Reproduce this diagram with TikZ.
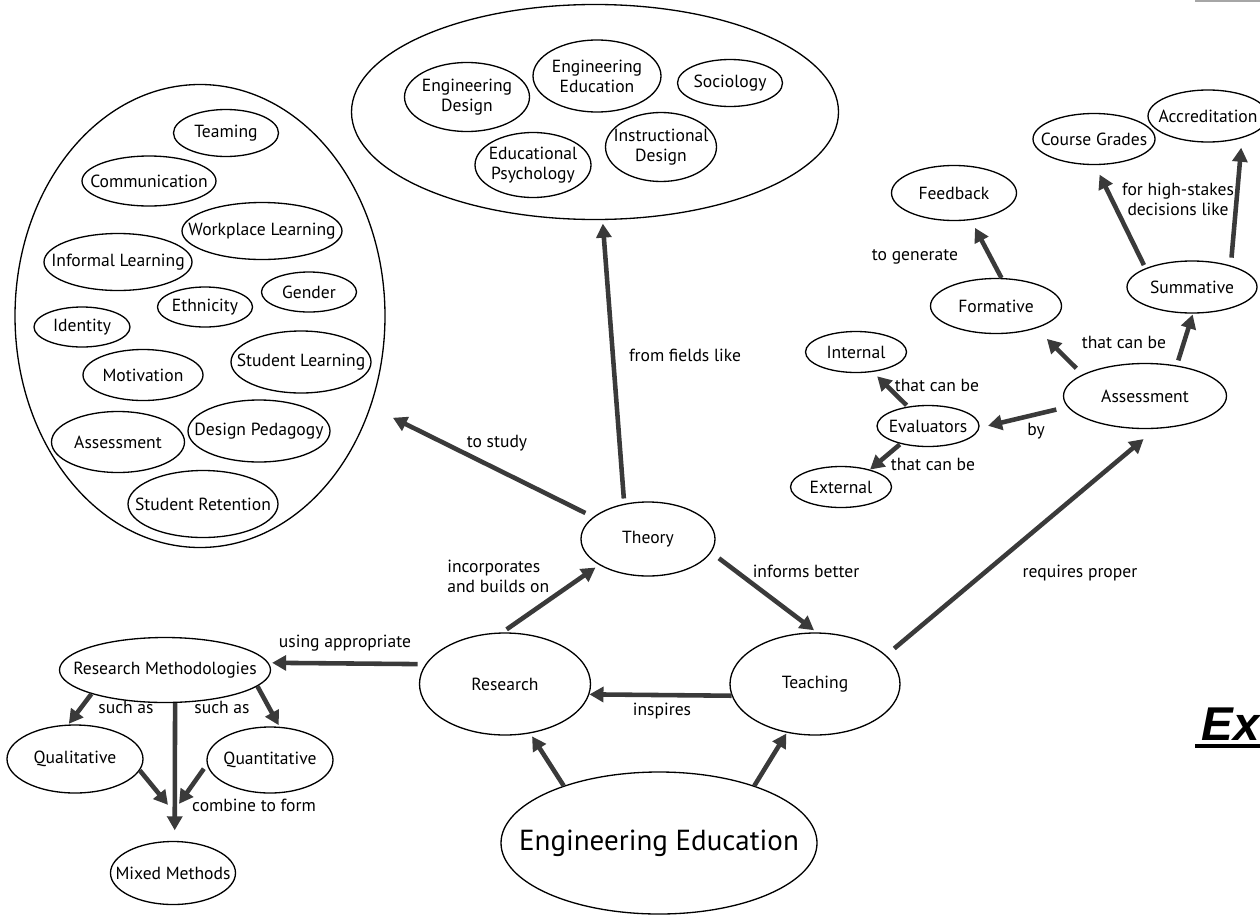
\documentclass[tikz,border=0pt]{standalone}
\usepackage{fontspec}
\setmainfont{PT Sans}
\newfontfamily\exfont{Liberation Sans}
\usetikzlibrary{shapes.geometric,arrows.meta,calc}
\definecolor{arrowgray}{HTML}{3A3A3A}

\begin{document}
\begin{tikzpicture}[x=0.02cm,y=-0.02cm,
  font=\fontsize{10}{11.5}\selectfont,
  bub/.style={ellipse,draw,line width=0.75pt,inner sep=-30pt,align=center},
  wh/.style 2 args={minimum width=#1*0.02cm,minimum height=#2*0.02cm},
  arr/.style={-{Triangle[length=8pt,width=8.5pt]},line width=2.6pt,draw=arrowgray},
  lab/.style={align=center,inner sep=0pt}]
\useasboundingbox (0,0) rectangle (1260,916);

% topic groups
\node[bub,wh={370}{463}] (topics) at (200,316) {};
\node[bub,wh={487}{215}] (fields) at (595,112) {};

\node[bub,wh={105}{47}] (teaming) at (226,133) {Teaming};
\node[bub,wh={134}{50}] (comm) at (149,181) {Communication};
\node[bub,wh={160}{57}] (workplace) at (262,231) {Workplace Learning};
\node[bub,wh={148}{57}] (informal) at (118,262) {Informal Learning};
\node[bub,wh={95}{40}] (ethnicity) at (205,307) {Ethnicity};
\node[bub,wh={95}{40}] (gender) at (309,292) {Gender};
\node[bub,wh={96}{40}] (identity) at (82,327) {Identity};
\node[bub,wh={120}{51}] (motivation) at (143,375) {Motivation};
\node[bub,wh={140}{62}] (stulearn) at (301,362) {Student Learning};
\node[bub,wh={133}{61}] (assessleft) at (118,442) {Assessment};
\node[bub,wh={142}{62}] (designped) at (259,431) {Design Pedagogy};
\node[bub,wh={150}{67}] (retention) at (203,504) {Student Retention};

\node[bub,wh={125}{69}] (engdesign) at (467,97) {Engineering\\Design};
\node[bub,wh={128}{72}] (engeduc) at (597,76) {Engineering\\Education};
\node[bub,wh={105}{47}] (sociology) at (730,83) {Sociology};
\node[bub,wh={116}{65}] (edpsych) at (533,165) {Educational\\Psychology};
\node[bub,wh={111}{69}] (instrdesign) at (661,147) {Instructional\\Design};

% core
\node[bub,wh={134}{74}] (theory) at (648,539) {Theory};
\node[bub,wh={171}{102}] (research) at (505,684) {Research};
\node[bub,wh={170}{102}] (teaching) at (815,684) {Teaching};
\node[bub,wh={316}{142},font=\fontsize{16.5}{18}\selectfont] (engedu) at (659,843) {Engineering Education};

\node[bub,wh={211}{65}] (methods) at (165,670) {Research Methodologies};
\node[bub,wh={136}{68}] (qual) at (75,759) {Qualitative};
\node[bub,wh={126}{66}] (quant) at (270,760) {Quantitative};
\node[bub,wh={125}{63}] (mixed) at (173,873) {Mixed Methods};

\node[bub,wh={163}{65}] (assess) at (1145,396) {Assessment};
\node[bub,wh={102}{41}] (evaluators) at (928,426) {Evaluators};
\node[bub,wh={101}{41}] (internal) at (856,352) {Internal};
\node[bub,wh={101}{41}] (external) at (841,487) {External};
\node[bub,wh={131}{55}] (formative) at (996,306) {Formative};
\node[bub,wh={125}{55}] (feedback) at (954,193) {Feedback};
\node[bub,wh={130}{52}] (summative) at (1192,287) {Summative};
\node[bub,wh={122}{51}] (grades) at (1094,139) {Course Grades};
\node[bub,wh={120}{52}] (accred) at (1208,116) {Accreditation};

% arrows
\draw[arr,shorten <=5pt,shorten >=14pt] (theory.158) -- (topics.-28);
\draw[arr,shorten <=3pt,shorten >=2pt] (theory.124) -- (fields.-86);
\draw[arr,shorten <=3pt,shorten >=2.5pt] (research.93) -- (theory.208);
\draw[arr,shorten <=5.5pt,shorten >=2pt] (theory.-12) -- (teaching.88);
\draw[arr] (teaching.188) -- (research.-7.5);
\draw[arr,shorten >=2pt] (engedu.149) -- (research.-63);
\draw[arr,shorten >=0.5pt] (engedu.31) -- (teaching.240);
\draw[arr,shorten <=4.5pt,shorten >=2pt] (research.166) -- (methods.4);
\draw[arr,shorten >=0.5pt] (methods.198) -- (qual.101);
\draw[arr,shorten >=1pt] (methods.-10) -- (quant.74);
\draw[arr,shorten >=6pt] (methods.-73) -- (mixed.87);
\draw[arr] (qual.-10) -- ($(mixed.north)+(-5,-36)$);
\draw[arr,shorten <=3pt] (quant.184) -- ($(mixed.north)+(6,-37)$);
\draw[arr,shorten <=6pt,shorten >=9pt] (teaching.22) -- (assess.-72);
\draw[arr,shorten <=6.5pt,shorten >=5pt] (assess.188) -- (evaluators.-2);
\draw[arr,shorten <=1pt,shorten >=3.5pt] (evaluators.136) -- (internal.-50);
\draw[arr,shorten <=0.5pt] (evaluators.213) -- (external.31);
\draw[arr,shorten <=5pt,shorten >=8.5pt] (assess.161) -- (formative.-29);
\draw[arr,shorten <=3pt,shorten >=0.5pt] (assess.44) -- (summative.-88);
\draw[arr,shorten >=5pt] (formative.79) -- (feedback.-58);
\draw[arr,shorten <=2pt,shorten >=6pt] (summative.158) -- (grades.-88);
\draw[arr,shorten <=4.5pt,shorten >=5.5pt] (summative.29) -- (accred.-33);

% link words
\node[lab] (tostudy) at (497,443) {to study};
\node[lab] (fromfields) at (685,355) {from fields like};
\node[lab,align=left,anchor=west] (incorp) at (447,576) {incorporates\\and builds on};
\node[lab] (informs) at (806,571) {informs better};
\node[lab] (inspires) at (662,711) {inspires};
\node[lab] (requires) at (1080,573) {requires proper};
\node[lab] (using) at (345,643) {using appropriate};
\node[lab] (suchasl) at (126,707) {such as};
\node[lab] (suchasr) at (222,707) {such as};
\node[lab] (combine) at (254,805) {combine to form};
\node[lab] (by) at (1036,431) {by};
\node[lab] (canint) at (937,385) {that can be};
\node[lab] (canext) at (933,464) {that can be};
\node[lab] (canass) at (1124,342) {that can be};
\node[lab] (generate) at (915,257) {to generate};
\node[lab] (highstakes) at (1178,199) {for high-stakes\\decisions like};

% cut-off bits at the right edge
\draw[gray!70,line width=1.2pt] (1195,1) -- (1260,1);
\node[anchor=base west,inner sep=0pt,font=\exfont\bfseries\itshape\fontsize{27}{30}\selectfont] (ex) at (1201,740) {Ex};
\draw[line width=1.8pt] (1195,746) -- (1260,746);
\end{tikzpicture}
\end{document}
